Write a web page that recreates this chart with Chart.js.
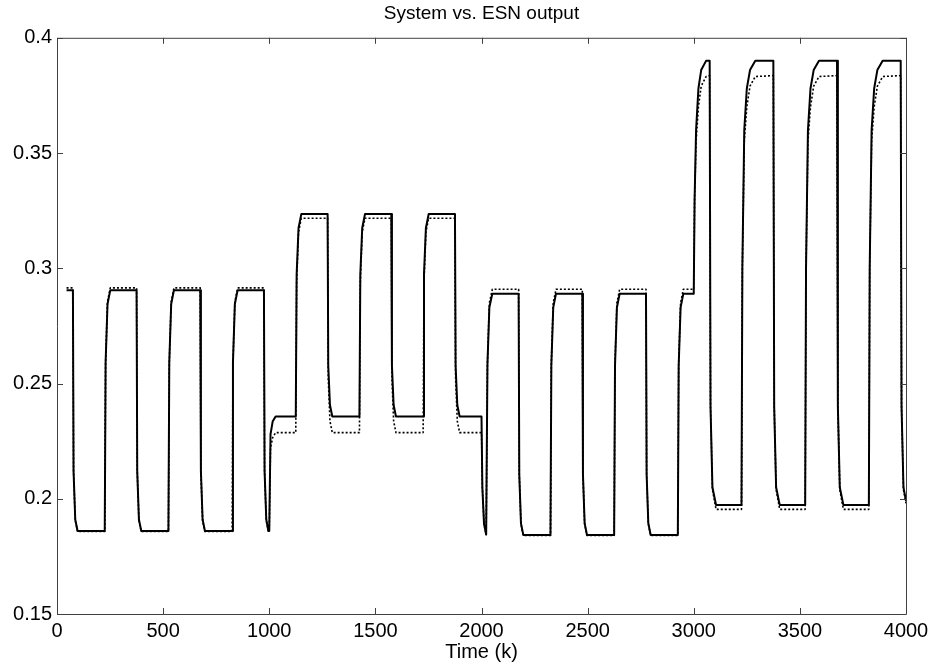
<!DOCTYPE html>
<html>
<head>
<meta charset="utf-8">
<script src="https://cdn.jsdelivr.net/npm/chart.js@4.4.1/dist/chart.umd.min.js"></script>
<style>
  html, body { margin: 0; padding: 0; background: #fff; }
  #wrap { width: 934px; height: 667px; }
</style>
</head>
<body>
<div id="wrap"><canvas id="myChart" width="934" height="667"></canvas></div>
<script>
// sample times (k), shared by both curves
const timeK = [
  45, 75, 78, 86, 97, 225, 229, 238, 251,
  375, 378, 386, 397, 525, 529, 538, 551,
  675, 678, 686, 697, 825, 829, 838, 851,
  975, 978, 986, 996, 1000, 1006, 1016, 1030,
  1125, 1129, 1138, 1151, 1275, 1278, 1286, 1297,
  1425, 1429, 1438, 1451, 1575, 1578, 1586, 1597,
  1725, 1729, 1738, 1751, 1875, 1878, 1886, 1897,
  2000, 2004, 2012, 2022, 2028, 2037, 2051,
  2175, 2178, 2186, 2197, 2325, 2329, 2338, 2351,
  2475, 2478, 2486, 2497, 2625, 2629, 2638, 2651,
  2775, 2778, 2786, 2797, 2925, 2929, 2938, 2951,
  3000, 3004, 3011, 3022, 3035, 3058, 3075, 3079, 3088, 3105,
  3225, 3229, 3238, 3250, 3265, 3290, 3375, 3379, 3388, 3405,
  3525, 3529, 3538, 3550, 3565, 3590, 3675, 3679, 3688, 3705,
  3825, 3829, 3838, 3850, 3865, 3890, 3975, 3979, 3988, 4000
];

// system output (solid)
const systemOut = [
  0.2905, 0.2905, 0.212, 0.191, 0.186, 0.186, 0.259, 0.2845, 0.2905,
  0.2905, 0.212, 0.191, 0.186, 0.186, 0.259, 0.2845, 0.2905,
  0.2905, 0.212, 0.191, 0.186, 0.186, 0.259, 0.2845, 0.2905,
  0.2905, 0.212, 0.191, 0.186, 0.186, 0.228, 0.2335, 0.2357,
  0.2357, 0.2972, 0.3175, 0.3235, 0.3235, 0.2577, 0.2407, 0.2357,
  0.2357, 0.2972, 0.3175, 0.3235, 0.3235, 0.2577, 0.2407, 0.2357,
  0.2357, 0.2972, 0.3175, 0.3235, 0.3235, 0.2577, 0.2407, 0.2357,
  0.2357, 0.205, 0.189, 0.1845, 0.258, 0.283, 0.289,
  0.289, 0.2105, 0.1893, 0.1843, 0.1843, 0.2576, 0.283, 0.289,
  0.289, 0.2105, 0.1893, 0.1843, 0.1843, 0.2576, 0.283, 0.289,
  0.289, 0.2105, 0.1893, 0.1843, 0.1843, 0.2576, 0.283, 0.289,
  0.289, 0.33, 0.36, 0.378, 0.386, 0.39, 0.39, 0.24, 0.205, 0.1973,
  0.1973, 0.30, 0.36, 0.378, 0.386, 0.39, 0.39, 0.24, 0.205, 0.1973,
  0.1973, 0.30, 0.36, 0.378, 0.386, 0.39, 0.39, 0.24, 0.205, 0.1973,
  0.1973, 0.30, 0.36, 0.378, 0.386, 0.39, 0.39, 0.24, 0.205, 0.199
];

// ESN output (dotted)
const esnOut = [
  0.2915, 0.2915, 0.212, 0.1905, 0.1858, 0.1858, 0.259, 0.2855, 0.2915,
  0.2915, 0.212, 0.1905, 0.1858, 0.1858, 0.259, 0.2855, 0.2915,
  0.2915, 0.212, 0.1905, 0.1858, 0.1858, 0.259, 0.2855, 0.2915,
  0.2915, 0.212, 0.1905, 0.1858, 0.1858, 0.222, 0.2265, 0.2287,
  0.2287, 0.2938, 0.3157, 0.3217, 0.3217, 0.252, 0.2337, 0.2287,
  0.2287, 0.2938, 0.3157, 0.3217, 0.3217, 0.252, 0.2337, 0.2287,
  0.2287, 0.2938, 0.3157, 0.3217, 0.3217, 0.252, 0.2337, 0.2287,
  0.2287, 0.205, 0.189, 0.1845, 0.259, 0.285, 0.2909,
  0.2909, 0.2105, 0.189, 0.1841, 0.1841, 0.259, 0.285, 0.2909,
  0.2909, 0.2105, 0.189, 0.1841, 0.1841, 0.259, 0.285, 0.2909,
  0.2909, 0.2105, 0.189, 0.1841, 0.1841, 0.259, 0.285, 0.2909,
  0.2909, 0.33, 0.355, 0.37, 0.379, 0.3832, 0.3836, 0.24, 0.204, 0.1954,
  0.1954, 0.30, 0.355, 0.37, 0.379, 0.3832, 0.3836, 0.24, 0.204, 0.1954,
  0.1954, 0.30, 0.355, 0.37, 0.379, 0.3832, 0.3836, 0.24, 0.204, 0.1954,
  0.1954, 0.30, 0.355, 0.37, 0.379, 0.3832, 0.3836, 0.24, 0.204, 0.198
];

const xTicks = [0, 500, 1000, 1500, 2000, 2500, 3000, 3500, 4000];
const yTicks = [0.15, 0.2, 0.25, 0.3, 0.35, 0.4];

const fontFamily = "'Liberation Sans', Arial, sans-serif";
const axisColor = "#404040";

// matlab style box with ticks pointing inwards
const boxPlugin = {
  id: "matlabBox",
  afterDraw(chart) {
    const c = chart.ctx;
    const a = chart.chartArea;
    const xs = chart.scales.x;
    const ys = chart.scales.y;
    const len = 6;
    c.save();
    c.strokeStyle = axisColor;
    c.lineWidth = 1;
    c.beginPath();
    c.rect(a.left + 0.5, a.top + 0.5, a.right - a.left, a.bottom - a.top);
    xTicks.forEach(v => {
      const px = Math.round(xs.getPixelForValue(v)) + 0.5;
      c.moveTo(px, a.bottom); c.lineTo(px, a.bottom - len);
      c.moveTo(px, a.top); c.lineTo(px, a.top + len);
    });
    yTicks.forEach(v => {
      const py = Math.round(ys.getPixelForValue(v)) + 0.5;
      c.moveTo(a.left, py); c.lineTo(a.left + len, py);
      c.moveTo(a.right, py); c.lineTo(a.right - len, py);
    });
    c.stroke();
    c.restore();
  }
};

const ctx = document.getElementById("myChart").getContext("2d");

const datasets = [
  {
    label: "ESN",
    data: timeK.map((t, i) => ({ x: t, y: esnOut[i] })),
    borderColor: "#000",
    borderWidth: 1.6,
    borderDash: [2, 2],
    borderJoinStyle: "round",
    pointRadius: 0,
    tension: 0,
    fill: false
  },
  {
    label: "System",
    data: timeK.map((t, i) => ({ x: t, y: systemOut[i] })),
    borderColor: "#000",
    borderWidth: 2,
    borderJoinStyle: "round",
    pointRadius: 0,
    tension: 0,
    fill: false
  }
];

const myChart = new Chart(ctx, {
  type: "line",
  data: { datasets },
  options: {
    responsive: false,
    animation: false,
    devicePixelRatio: 1,
    layout: { padding: { left: 0, right: 28, top: 0, bottom: 0 } },
    plugins: {
      legend: { display: false },
      tooltip: { enabled: false },
      title: {
        display: true,
        fullSize: false,
        text: "System vs. ESN output",
        color: "#000",
        font: { family: fontFamily, size: 19, weight: "normal" },
        padding: { top: 2, bottom: 13 }
      }
    },
    scales: {
      x: {
        type: "linear",
        min: 0,
        max: 4000,
        afterBuildTicks: s => { s.ticks = xTicks.map(v => ({ value: v })); },
        afterFit: s => { s.height = 53; },
        grid: { display: false, drawTicks: false },
        border: { display: false },
        ticks: {
          color: "#000",
          padding: 5,
          maxRotation: 0,
          font: { family: fontFamily, size: 20 },
          callback: v => String(v)
        },
        title: {
          display: true,
          text: "Time (k)",
          color: "#000",
          font: { family: fontFamily, size: 20 },
          padding: { top: 0, bottom: 3 }
        }
      },
      y: {
        type: "linear",
        min: 0.15,
        max: 0.4,
        afterBuildTicks: s => { s.ticks = yTicks.map(v => ({ value: v })); },
        afterFit: s => { s.width = 57; },
        grid: { display: false, drawTicks: false },
        border: { display: false },
        ticks: {
          color: "#000",
          padding: 5,
          font: { family: fontFamily, size: 20 },
          callback: v => String(+v.toFixed(2))
        }
      }
    }
  },
  plugins: [boxPlugin]
});
</script>
</body>
</html>
